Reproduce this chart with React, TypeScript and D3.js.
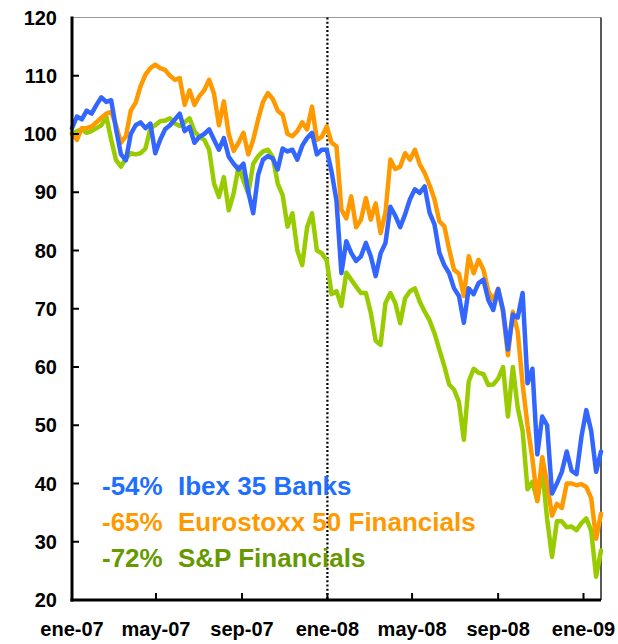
import { useEffect, useRef } from 'react';
import * as d3 from 'd3';

// weekly closes, rebased to 100
const START = new Date(2007, 0, 1);

const ibexBanks = [
  101, 103, 102.5, 104, 103.5, 105, 106.3, 105.5, 105.8, 100.8,
  96.5, 95.5, 100, 101.5, 102, 101, 101.8, 96.7, 99, 100.8,
  101.5, 102.5, 103.5, 100.5, 101.2, 98.5, 99.5, 100, 100.8, 99,
  97.3, 99.3, 96.1, 94.9, 93.9, 94.9, 90, 86.4, 93, 95.6,
  96.2, 95.8, 93.9, 97.5, 97, 97.3, 95.6, 98, 99.3, 100.2,
  96.5, 97.3, 97.3, 93.5, 88.5, 76.1, 81.6, 79.6, 78.2, 79,
  81.3, 79, 75.6, 79.5, 81.3, 87.5, 86, 84, 86.2, 88.8,
  90.5, 89.9, 91, 86.5, 84.5, 79.6, 77.5, 76.1, 73.5, 72.2,
  67.6, 73.5, 72.5, 74.4, 75, 71.5, 69.8, 73.4, 69.8, 63,
  69, 68.5, 72.7, 57.2, 59.7, 45, 51.5, 50, 38.3, 40,
  42, 45.5, 42.2, 41.6, 48, 52.6, 49, 42, 45.5,
];

const eurostoxxFin = [
  100.2, 99, 101, 101, 101.3, 102, 102.8, 103.5, 103.8, 101.5,
  98.5, 99.6, 104, 105.4, 108.2, 110.2, 111.3, 111.9, 111.3, 111,
  110, 109.3, 109.6, 105, 107.5, 105, 106.5, 107.5, 109.3, 106.9,
  101.5, 105.6, 100, 97.1, 98.5, 100.2, 96.5, 99, 102.5, 105.5,
  107, 106, 104, 103.3, 100, 99.6, 100.5, 102, 100.8, 104.7,
  99, 99.5, 101.3, 98.5, 97.9, 87, 85.5, 89.3, 84, 85.3,
  89, 85.3, 88.1, 83, 86.5, 95.6, 94, 94.4, 96.7, 95.6,
  97.3, 94.8, 93.3, 91.2, 88.8, 85, 84.2, 80.2, 76.7, 76,
  72.2, 79, 76.1, 78.4, 76.7, 73, 71.5, 73.4, 69.5, 62,
  69.5, 66, 57, 50, 44.2, 37, 44.5, 40, 34.5, 36.5,
  35.8, 40, 40, 39.7, 39.9, 39.4, 37.5, 30.5, 34.8,
];

const spFinancials = [
  100, 100.5, 100.8, 100.2, 100.5, 101, 101.5, 103, 99, 95.5,
  94.4, 95.8, 96.7, 96.5, 96.7, 97.5, 101, 101.5, 102.2, 102.3,
  102.7, 101.8, 101.4, 102, 102.7, 100.5, 99.5, 99, 97.3, 91.5,
  89.2, 92.6, 86.9, 89.8, 94.4, 92, 89.8, 94.9, 96.2, 97,
  97.3, 96, 91.5, 89.5, 84.1, 86.4, 80, 77.5, 84, 86.4,
  80, 79.5, 78.3, 72.5, 73, 70.5, 76.2, 75, 73.8, 72.7,
  72.7, 69.3, 64.5, 63.8, 71, 72.7, 71, 67.5, 71.8, 73,
  73.5, 71.2, 69.5, 68, 65.8, 63, 60.2, 57, 56.1, 54,
  47.5, 57.5, 59.7, 59, 58.8, 56.9, 57, 58, 60, 51.5,
  60, 53, 49, 39, 40.3, 37, 42.5, 33.9, 27.4, 33.5,
  33.5, 32.5, 32.6, 32, 33.2, 34, 31.9, 24, 28.5,
];

const yTicks = [20, 30, 40, 50, 60, 70, 80, 90, 100, 110, 120];
const xTickDates = ['2007-01-01', '2007-05-01', '2007-09-01', '2008-01-01', '2008-05-01', '2008-09-01', '2009-01-01'];
const xTickLabels = ['ene-07', 'may-07', 'sep-07', 'ene-08', 'may-08', 'sep-08', 'ene-09'];
const markerDate = '2008-01-01';

const legendPct = ['-54%', '-65%', '-72%'];
const legendNames = ['Ibex 35 Banks', 'Eurostoxx 50 Financials', 'S&P Financials'];

const W = 618;
const H = 644;
const FONT = '"Liberation Sans", Arial, sans-serif';

export default function App() {
  const svgRef = useRef<SVGSVGElement>(null);

  useEffect(() => {
    if (!svgRef.current) return;
    const svg = d3.select(svgRef.current);
    svg.selectAll('*').remove();

    const parse = d3.timeParse('%Y-%m-%d');
    const dates = ibexBanks.map((_, i) => d3.timeDay.offset(START, i * 7));

    const left = 72, right = 601, top = 17.5, bottom = 600;

    const x = d3.scaleTime()
      .domain([START, dates[dates.length - 1]])
      .range([left, right]);
    const y = d3.scaleLinear().domain([20, 120]).range([bottom, top]);

    const series = [
      { values: spFinancials, color: '#99CC00' },
      { values: eurostoxxFin, color: '#FF9900' },
      { values: ibexBanks, color: '#3366FF' },
    ];

    // frame: faint top edge, dark right edge
    svg.append('line')
      .attr('x1', left).attr('x2', right)
      .attr('y1', top).attr('y2', top)
      .attr('stroke', '#9a9a9a').attr('stroke-width', 1);
    svg.append('line')
      .attr('x1', right).attr('x2', right)
      .attr('y1', top).attr('y2', bottom)
      .attr('stroke', '#222').attr('stroke-width', 1.5);

    // dotted marker line at ene-08
    const mx = x(parse(markerDate)!);
    svg.append('line')
      .attr('x1', mx).attr('x2', mx)
      .attr('y1', top).attr('y2', bottom)
      .attr('stroke', '#000')
      .attr('stroke-width', 2.2)
      .attr('stroke-dasharray', '2,2.2');

    const line = d3.line<number>()
      .x((_, i) => x(dates[i]))
      .y(d => y(d));

    series.forEach(s => {
      svg.append('path')
        .datum(s.values)
        .attr('d', line)
        .attr('fill', 'none')
        .attr('stroke', s.color)
        .attr('stroke-width', 4.5)
        .attr('stroke-linejoin', 'round')
        .attr('stroke-linecap', 'round');
    });

    // y axis
    svg.append('line')
      .attr('x1', left).attr('x2', left)
      .attr('y1', top - 1).attr('y2', bottom + 1.5)
      .attr('stroke', '#000').attr('stroke-width', 3);
    svg.selectAll('.ytick')
      .data(yTicks.slice(1, -1))
      .join('line')
      .attr('x1', left).attr('x2', left + 7)
      .attr('y1', d => y(d)).attr('y2', d => y(d))
      .attr('stroke', '#000').attr('stroke-width', 2);
    svg.selectAll('.ylab')
      .data(yTicks)
      .join('text')
      .attr('x', 57)
      .attr('y', d => y(d))
      .attr('dy', '0.36em')
      .attr('text-anchor', 'end')
      .attr('font-family', FONT)
      .attr('font-weight', 'bold')
      .attr('font-size', 20)
      .text(d => d);

    // x axis
    svg.append('line')
      .attr('x1', left - 1.5).attr('x2', right)
      .attr('y1', bottom).attr('y2', bottom)
      .attr('stroke', '#000').attr('stroke-width', 3);
    const tickDates = xTickDates.map(d => parse(d)!);
    svg.selectAll('.xtick')
      .data(tickDates.slice(1))
      .join('line')
      .attr('x1', d => x(d)).attr('x2', d => x(d))
      .attr('y1', bottom).attr('y2', bottom - 7)
      .attr('stroke', '#000').attr('stroke-width', 2);
    svg.selectAll('.xlab')
      .data(tickDates)
      .join('text')
      .attr('x', d => x(d))
      .attr('y', 636)
      .attr('text-anchor', 'middle')
      .attr('font-family', FONT)
      .attr('font-weight', 'bold')
      .attr('font-size', 20)
      .text((_, i) => xTickLabels[i]);

    // legend
    const legendColors = ['#1F6FFF', '#FF9900', '#669900'];
    const legend = svg.append('g')
      .attr('font-family', FONT)
      .attr('font-weight', 'bold')
      .attr('font-size', 26);
    legendNames.forEach((name, i) => {
      const ly = 495 + i * 36;
      legend.append('text')
        .attr('x', 102).attr('y', ly)
        .attr('fill', legendColors[i])
        .text(legendPct[i]);
      legend.append('text')
        .attr('x', 178).attr('y', ly)
        .attr('fill', legendColors[i])
        .text(name);
    });
  }, []);

  return (
    <svg
      ref={svgRef}
      width={W}
      height={H}
      style={{ position: 'absolute', left: 0, top: 0, background: '#fff' }}
    />
  );
}
